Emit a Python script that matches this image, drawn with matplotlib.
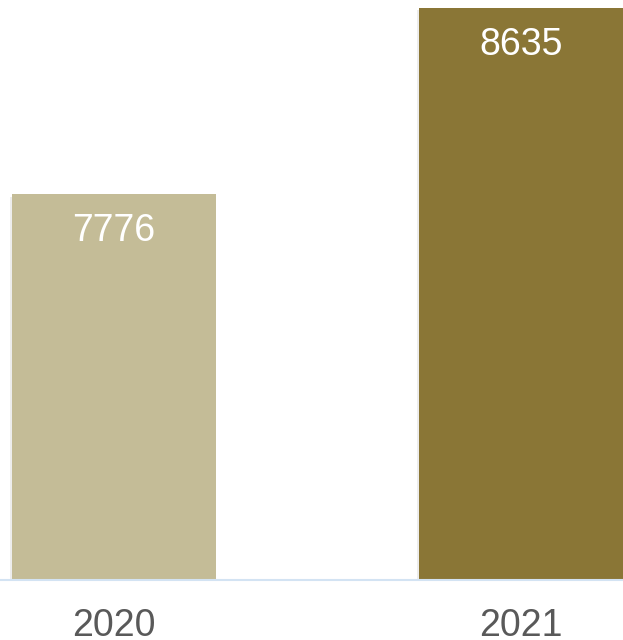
"""
two bar comparison 2020 vs 2021
"""

import matplotlib
matplotlib.use('Agg')
from matplotlib import pyplot as plt
from matplotlib import patheffects

years = ['2020', '2021']
values = [7776, 8635]
colors = ['#C4BC97', '#8A7636']

def create_chart():
	plt.rcParams['font.family'] = ['Liberation Sans', 'DejaVu Sans']
	fig = plt.figure(figsize=(6.23, 6.40), dpi=100)
	ax = fig.add_axes([0, 60 / 640, 1, 580 / 640])
	xs = range(len(years))
	bars = ax.bar(xs, values, width=0.5, bottom=0, color=colors, zorder=2)
	# soft shadow like the original
	for b in bars:
		b.set_path_effects([patheffects.SimplePatchShadow(offset=(-1.5, -1.5), alpha=0.15, shadow_rgbFace='#888888'),
			patheffects.Normal()])
	ax.set_ylim(6000, 8672)
	ax.set_xlim(-0.28, 1.2506)
	for x, v in zip(xs, values):
		ax.annotate(str(v), (x, v), xytext=(0, -37), textcoords='offset pixels',
			ha='center', va='center', color='white', fontsize=27)
	ax.axhline(6000, color='#D3E3F3', lw=1.5, zorder=3, clip_on=False)
	ax.set_xticks(list(xs))
	ax.set_xticklabels(years, fontsize=27, color='#595959')
	ax.tick_params(axis='x', length=0, pad=20)
	ax.set_yticks([])
	for s in ax.spines.values():
		s.set_visible(False)
	fig.savefig('out.png', dpi=100)

if __name__ == '__main__':
	create_chart()
